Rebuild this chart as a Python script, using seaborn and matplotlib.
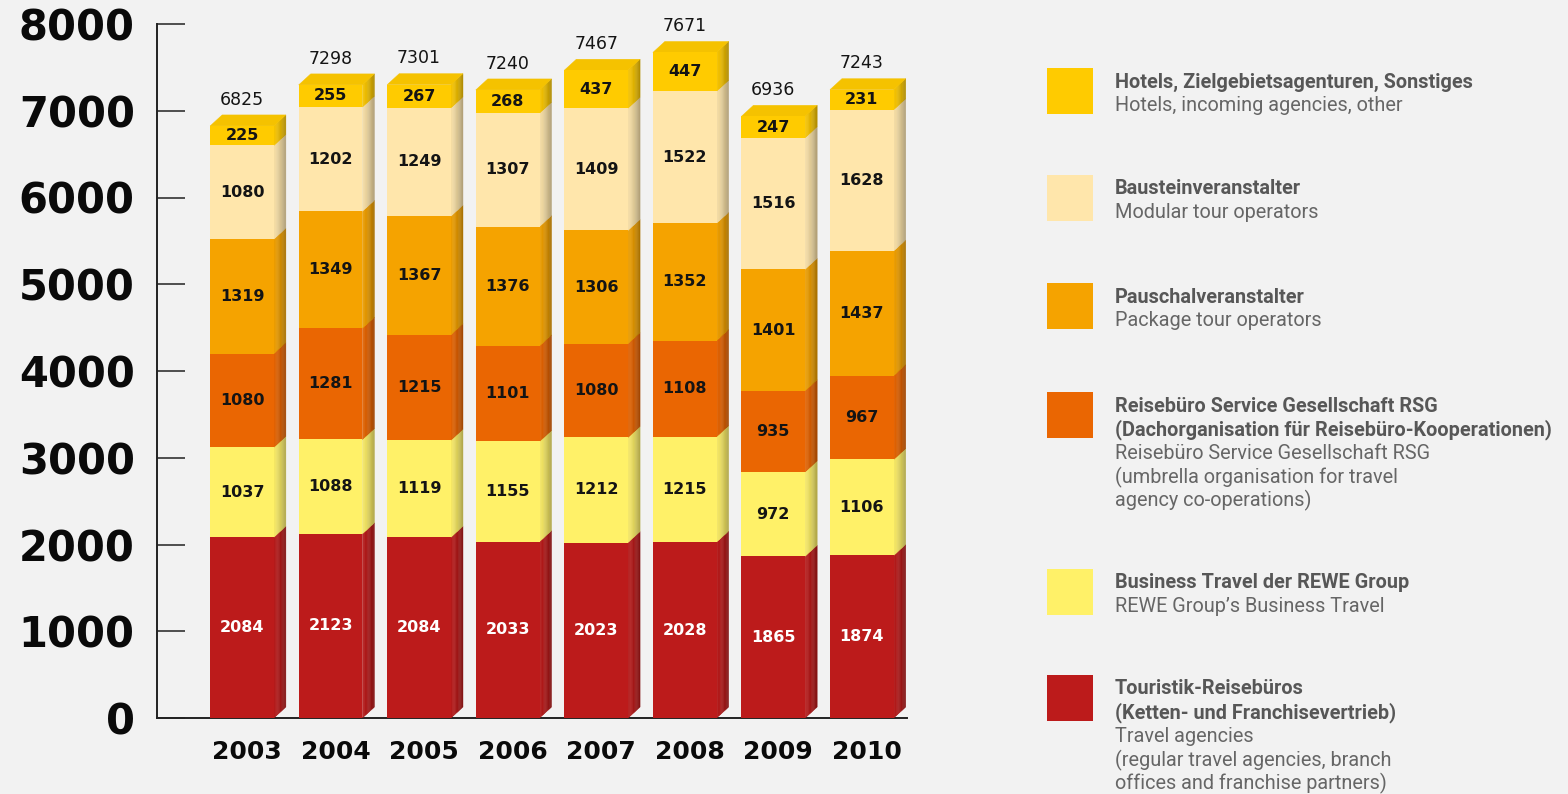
import numpy as np
import pandas as pd
import matplotlib
matplotlib.use("Agg")
import matplotlib.pyplot as plt
import seaborn as sns
from matplotlib.patches import Polygon, Rectangle
from matplotlib import font_manager
import matplotlib.colors as mcolors
import matplotlib.transforms as mtransforms

# ---------------- data ----------------
years = ['2003', '2004', '2005', '2006', '2007', '2008', '2009', '2010']
touristik = [2084, 2123, 2084, 2033, 2023, 2028, 1865, 1874]
business = [1037, 1088, 1119, 1155, 1212, 1215, 972, 1106]
rsg = [1080, 1281, 1215, 1101, 1080, 1108, 935, 967]
pauschal = [1319, 1349, 1367, 1376, 1306, 1352, 1401, 1437]
baustein = [1080, 1202, 1249, 1307, 1409, 1522, 1516, 1628]
hotels = [225, 255, 267, 268, 437, 447, 247, 231]
totals = [6825, 7298, 7301, 7240, 7467, 7671, 6936, 7243]
y_ticks = [0, 1000, 2000, 3000, 4000, 5000, 6000, 7000, 8000]

# legend texts (top to bottom)
legend_bold = [
    ["Hotels, Zielgebietsagenturen, Sonstiges"],
    ["Bausteinveranstalter"],
    ["Pauschalveranstalter"],
    ["Reisebüro Service Gesellschaft RSG", "(Dachorganisation für Reisebüro-Kooperationen)"],
    ["Business Travel der REWE Group"],
    ["Touristik-Reisebüros", "(Ketten- und Franchisevertrieb)"],
]
legend_normal = [
    ["Hotels, incoming agencies, other"],
    ["Modular tour operators"],
    ["Package tour operators"],
    ["Reisebüro Service Gesellschaft RSG", "(umbrella organisation for travel", "agency co-operations)"],
    ["REWE Group’s Business Travel"],
    ["Travel agencies", "(regular travel agencies, branch", "offices and franchise partners)"],
]

# ---------------- style ----------------
layers = [touristik, business, rsg, pauschal, baustein, hotels]  # bottom -> top
layer_colors = ['#BC1B1B', '#FFF168', '#EA6602', '#F5A300', '#FFE6AB', '#FFCB00']
label_colors = ['white', '#141414', '#141414', '#141414', '#141414', '#141414']
legend_colors = layer_colors[::-1]
BG = '#F2F2F2'

sns.set_theme(style="white")
available = {f.name for f in font_manager.fontManager.ttflist}
legend_font = 'Liberation Sans Narrow' if 'Liberation Sans Narrow' in available else 'Roboto'
plt.rcParams['font.family'] = ['DejaVu Sans']

W, H = 1568, 794
fig = plt.figure(figsize=(W / 100, H / 100), dpi=100, facecolor=BG)


def fx(px):
    return px / W


def fy(py):
    return 1 - py / H


ax_left, ax_right, ax_top, ax_bottom = 157, 907, 24, 718
ax = fig.add_axes([fx(ax_left), fy(ax_bottom), fx(ax_right) - fx(ax_left), fy(ax_top) - fy(ax_bottom)])
ax.set_facecolor(BG)

cum = np.cumsum(np.array(layers), axis=0)
bar_w = 0.72

# front faces: cumulative bars, drawn from the top layer down
for i in reversed(range(len(layers))):
    df = pd.DataFrame({'year': years, 'value': cum[i]})
    sns.barplot(data=df, x='year', y='value', color=layer_colors[i], saturation=1,
                width=bar_w, linewidth=0, edgecolor='none', errorbar=None, ax=ax, zorder=3)

ax.set_xlim(-0.96, 7.51)
ax.set_ylim(0, 8000)

# depth of the pseudo-3D faces, converted from pixels to data units
depth_x_px, depth_y_px = 12, 11
ux = (ax.get_xlim()[1] - ax.get_xlim()[0]) / (ax_right - ax_left)
uy = (ax.get_ylim()[1] - ax.get_ylim()[0]) / (ax_bottom - ax_top)
dx, dy = depth_x_px * ux, depth_y_px * uy


def shade(c, f):
    r, g, b = mcolors.to_rgb(c)
    return (r * f, g * f, b * f)


N = 10
for i in range(len(layers)):
    for j in range(len(years)):
        y0 = cum[i - 1][j] if i > 0 else 0
        y1 = cum[i][j]
        xr = j + bar_w / 2
        for k in range(N):
            t0, t1 = k / N, (k + 1) / N
            f = 0.96 - 0.26 * (k / (N - 1)) ** 1.4
            poly = Polygon([(xr + dx * t0, y0 + dy * t0), (xr + dx * t1, y0 + dy * t1),
                            (xr + dx * t1, y1 + dy * t1), (xr + dx * t0, y1 + dy * t0)],
                           closed=True, facecolor=shade(layer_colors[i], f),
                           edgecolor=shade(layer_colors[i], f), linewidth=0.3, zorder=2)
            ax.add_patch(poly)
        # segment value label
        ax.text(j, (y0 + y1) / 2, f"{layers[i][j]}", ha='center', va='center',
                fontsize=11.5, fontweight='bold', color=label_colors[i], zorder=5)

# top faces
for j in range(len(years)):
    top = cum[-1][j]
    xl, xr = j - bar_w / 2, j + bar_w / 2
    ax.add_patch(Polygon([(xl, top), (xr, top), (xr + dx, top + dy), (xl + dx, top + dy)],
                         closed=True, facecolor='#F5C200', edgecolor='#F5C200',
                         linewidth=0.3, zorder=2))
    ax.annotate(f"{totals[j]}", xy=(j, top + dy), xytext=(0, 11), textcoords='offset points',
                ha='center', va='center', fontsize=12.5, color='#141414', zorder=5)

# axes styling
ax.set_yticks(y_ticks)
ax.set_yticklabels([str(v) for v in y_ticks], fontsize=30, fontweight='bold', color='#0a0a0a')
ax.tick_params(axis='y', direction='in', length=20, width=1.1, color='#222222', pad=16, left=True)
ax.set_xticks(range(len(years)))
ax.set_xticklabels(years, fontsize=18, fontweight='bold', color='#0a0a0a')
ax.tick_params(axis='x', length=0, pad=15.5)
shift = mtransforms.ScaledTranslation(5 / 100, 0, fig.dpi_scale_trans)
for lbl in ax.get_xticklabels():
    lbl.set_transform(lbl.get_transform() + shift)
ax.set_xlabel('')
ax.set_ylabel('')
for s in ['top', 'right']:
    ax.spines[s].set_visible(False)
for s in ['left', 'bottom']:
    ax.spines[s].set_color('#222222')
    ax.spines[s].set_linewidth(1.4)
    ax.spines[s].set_zorder(1)
ax.grid(False)

# ---------------- legend ----------------
square_tops = [68, 175, 283, 392, 569, 675]
sq = 46
for idx in range(len(legend_colors)):
    top = square_tops[idx]
    fig.add_artist(Rectangle((fx(1047), fy(top + sq)), sq / W, sq / H, transform=fig.transFigure,
                             facecolor=legend_colors[idx], edgecolor='none'))
    y = top + 14
    for line in legend_bold[idx]:
        fig.text(fx(1115), fy(y), line, ha='left', va='center', fontsize=14.3, fontweight='bold',
                 color='#575757', family=[legend_font, 'DejaVu Sans'])
        y += 23.7
    for line in legend_normal[idx]:
        fig.text(fx(1115), fy(y), line, ha='left', va='center', fontsize=14.3,
                 color='#666666', family=[legend_font, 'DejaVu Sans'])
        y += 23.7

fig.savefig('out.png', dpi=100, facecolor=BG)
